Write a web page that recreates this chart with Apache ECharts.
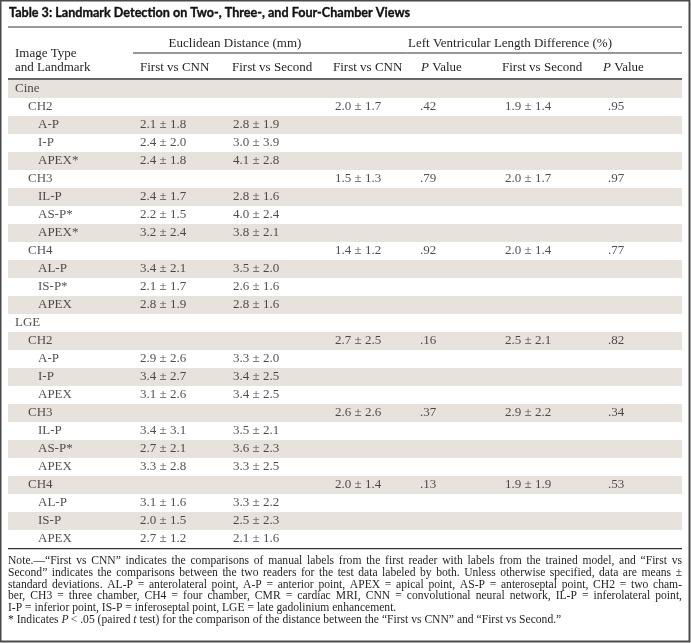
<!DOCTYPE html>
<html><head><meta charset="utf-8">
<script src="https://cdn.jsdelivr.net/npm/echarts@6/dist/echarts.min.js"></script>
<style>html,body{margin:0;padding:0;background:#fff}#c{width:691px;height:643px}</style>
</head><body><div id="c"></div>
<script>
// ---- data ----
const rowLabels = ['Cine','CH2','A-P','I-P','APEX*','CH3','IL-P','AS-P*','APEX*','CH4','AL-P','IS-P*','APEX',
                   'LGE','CH2','A-P','I-P','APEX','CH3','IL-P','AS-P*','APEX','CH4','AL-P','IS-P','APEX'];
const rowLevel  = [0,1,2,2,2,1,2,2,2,1,2,2,2, 0,1,2,2,2,1,2,2,2,1,2,2,2];
const distCnnMean = [null,null,2.1,2.4,2.4,null,2.4,2.2,3.2,null,3.4,2.1,2.8, null,null,2.9,3.4,3.1,null,3.4,2.7,3.3,null,3.1,2.0,2.7];
const distCnnSd   = [null,null,1.8,2.0,1.8,null,1.7,1.5,2.4,null,2.1,1.7,1.9, null,null,2.6,2.7,2.6,null,3.1,2.1,2.8,null,1.6,1.5,1.2];
const distSecMean = [null,null,2.8,3.0,4.1,null,2.8,4.0,3.8,null,3.5,2.6,2.8, null,null,3.3,3.4,3.4,null,3.5,3.6,3.3,null,3.3,2.5,2.1];
const distSecSd   = [null,null,1.9,3.9,2.8,null,1.6,2.4,2.1,null,2.0,1.6,1.6, null,null,2.0,2.5,2.5,null,2.1,2.3,2.5,null,2.2,2.3,1.6];
const lvCnnMean = [null,2.0,null,null,null,1.5,null,null,null,1.4,null,null,null, null,2.7,null,null,null,2.6,null,null,null,2.0,null,null,null];
const lvCnnSd   = [null,1.7,null,null,null,1.3,null,null,null,1.2,null,null,null, null,2.5,null,null,null,2.6,null,null,null,1.4,null,null,null];
const lvCnnP    = [null,0.42,null,null,null,0.79,null,null,null,0.92,null,null,null, null,0.16,null,null,null,0.37,null,null,null,0.13,null,null,null];
const lvSecMean = [null,1.9,null,null,null,2.0,null,null,null,2.0,null,null,null, null,2.5,null,null,null,2.9,null,null,null,1.9,null,null,null];
const lvSecSd   = [null,1.4,null,null,null,1.7,null,null,null,1.4,null,null,null, null,2.1,null,null,null,2.2,null,null,null,1.9,null,null,null];
const lvSecP    = [null,0.95,null,null,null,0.97,null,null,null,0.77,null,null,null, null,0.82,null,null,null,0.34,null,null,null,0.53,null,null,null];

const titleText = 'Table 3: Landmark Detection on Two-, Three-, and Four-Chamber Views';
const groupHeaders = ['Euclidean Distance (mm)', 'Left Ventricular Length Difference (%)'];
const colHeaders = ['First vs CNN','First vs Second','First vs CNN','P Value','First vs Second','P Value'];
const noteLines = [
 'Note.\u2014\u201CFirst vs CNN\u201D indicates the comparisons of manual labels from the first reader with labels from the trained model, and \u201CFirst vs',
 'Second\u201D indicates the comparisons between the two readers for the test data labeled by both. Unless otherwise specified, data are means \u00B1',
 'standard deviations. AL-P = anterolateral point, A-P = anterior point, APEX = apical point, AS-P = anteroseptal point, CH2 = two cham-',
 'ber, CH3 = three chamber, CH4 = four chamber, CMR = cardiac MRI, CNN = convolutional neural network, IL-P = inferolateral point,',
 'I-P = inferior point, IS-P = inferoseptal point, LGE = late gadolinium enhancement.',
 '* Indicates P < .05 (paired t test) for the comparison of the distance between the \u201CFirst vs CNN\u201D and \u201CFirst vs Second.\u201D'
];
const noteJustified = [true, true, true, true, false, false];

// ---- layout ----
const L = 8, R = 682, TOP = 80, ROWH = 18;
const indentX = [15, 28, 38];
const colX = [140, 233, 335, 420, 505, 608];
const headX = [140, 232, 333, 421, 502, 603];
const serif = '"Liberation Serif", "Times New Roman", serif';
const ink = '#231f20';
const NOTE_FS = 11.6;

const fmtMS = (m, s) => (m == null ? null : m.toFixed(1) + ' \u00B1 ' + s.toFixed(1));
const fmtP = p => (p == null ? null : p.toFixed(2).replace(/^0/, ''));

const cols = [
  distCnnMean.map((m, i) => fmtMS(m, distCnnSd[i])),
  distSecMean.map((m, i) => fmtMS(m, distSecSd[i])),
  lvCnnMean.map((m, i) => fmtMS(m, lvCnnSd[i])),
  lvCnnP.map(fmtP),
  lvSecMean.map((m, i) => fmtMS(m, lvSecSd[i])),
  lvSecP.map(fmtP)
];

const labelStyle = { show: true, position: 'right', distance: 0, color: ink, fontFamily: serif, fontSize: 13,
  formatter: p => p.value[2] };

const series = [];
series.push({
  type: 'scatter', symbolSize: 0, silent: true, animation: false,
  data: rowLabels.map((t, i) => [indentX[rowLevel[i]], i, t]),
  label: labelStyle
});
cols.forEach((c, ci) => {
  series.push({
    type: 'scatter', symbolSize: 0, silent: true, animation: false,
    data: c.map((t, i) => (t == null ? null : [colX[ci], i, t])).filter(d => d),
    label: labelStyle
  });
});

const graphic = [];
graphic.push({ type: 'rect', shape: { x: 0.5, y: 0.5, width: 689, height: 641 }, style: { fill: null, stroke: '#4a4a4a', lineWidth: 2 }, silent: true });
graphic.push({ type: 'text', x: 9, y: 13, style: { text: titleText, font: 'bold 12.6px Lato, "DejaVu Sans", sans-serif', fill: '#111', textVerticalAlign: 'middle', stroke: '#111', lineWidth: 0.35 } });
graphic.push({ type: 'line', shape: { x1: L, y1: 27, x2: R, y2: 27 }, style: { stroke: '#9a9a9a', lineWidth: 2 } });
graphic.push({ type: 'line', shape: { x1: 133, y1: 53, x2: R, y2: 53 }, style: { stroke: '#333', lineWidth: 1 } });
graphic.push({ type: 'line', shape: { x1: L, y1: 79, x2: R, y2: 79 }, style: { stroke: '#333', lineWidth: 1.5 } });
graphic.push({ type: 'line', shape: { x1: L, y1: TOP + ROWH * rowLabels.length + 0.5, x2: R, y2: TOP + ROWH * rowLabels.length + 0.5 }, style: { stroke: '#333', lineWidth: 1.5 } });
graphic.push({ type: 'text', x: 15, y: 54, style: { text: 'Image Type', font: '13px ' + serif, fill: ink, textVerticalAlign: 'middle' } });
graphic.push({ type: 'text', x: 15, y: 68, style: { text: 'and Landmark', font: '13px ' + serif, fill: ink, textVerticalAlign: 'middle' } });
graphic.push({ type: 'text', x: 235, y: 44, style: { text: groupHeaders[0], font: '13px ' + serif, fill: ink, textAlign: 'center', textVerticalAlign: 'middle' } });
graphic.push({ type: 'text', x: 510, y: 44, style: { text: groupHeaders[1], font: '13px ' + serif, fill: ink, textAlign: 'center', textVerticalAlign: 'middle' } });
colHeaders.forEach((h, i) => {
  const isP = h.indexOf('P ') === 0;
  graphic.push({ type: 'text', x: headX[i], y: 68, style: {
    text: isP ? '{i|P} Value' : h, font: '13px ' + serif, fill: ink, textVerticalAlign: 'middle',
    rich: { i: { fontStyle: 'italic', fontFamily: serif, fontSize: 13, fill: ink } } } });
});

// notes (justified lines built word by word)
const mctx = document.createElement('canvas').getContext('2d');
mctx.font = NOTE_FS + 'px ' + serif;
const italicWords = { 'P': true, 't': true };
noteLines.forEach((t, li) => {
  const y = 561 + li * 11.8;
  const words = t.split(' ');
  const widths = words.map(w => mctx.measureText(w).width);
  const total = widths.reduce((a, b) => a + b, 0);
  const spaceW = mctx.measureText(' ').width;
  const gap = noteJustified[li] ? (R - L - total) / (words.length - 1) : spaceW;
  let x = L;
  words.forEach((w, wi) => {
    const it = li === 5 && italicWords[w];
    graphic.push({ type: 'text', x: x, y: y, silent: true, style: { text: w,
      font: (it ? 'italic ' : '') + NOTE_FS + 'px ' + serif, fill: ink, textVerticalAlign: 'middle' } });
    x += widths[wi] + gap;
  });
});

const chart = echarts.init(document.getElementById('c'), null, { renderer: 'canvas' });
chart.setOption({
  animation: false,
  backgroundColor: '#fff',
  grid: { left: L, top: TOP, width: R - L, height: ROWH * rowLabels.length },
  xAxis: { type: 'value', min: L, max: R, show: false },
  yAxis: {
    type: 'category', inverse: true, data: rowLabels.map((_, i) => i),
    axisLine: { show: false }, axisTick: { show: false, interval: 0 }, axisLabel: { show: false, interval: 0 },
    splitLine: { show: false },
    splitArea: { show: true, interval: 0, areaStyle: { color: ['#e8e2dd', '#ffffff'] } }
  },
  series,
  graphic
});
</script></body></html>
